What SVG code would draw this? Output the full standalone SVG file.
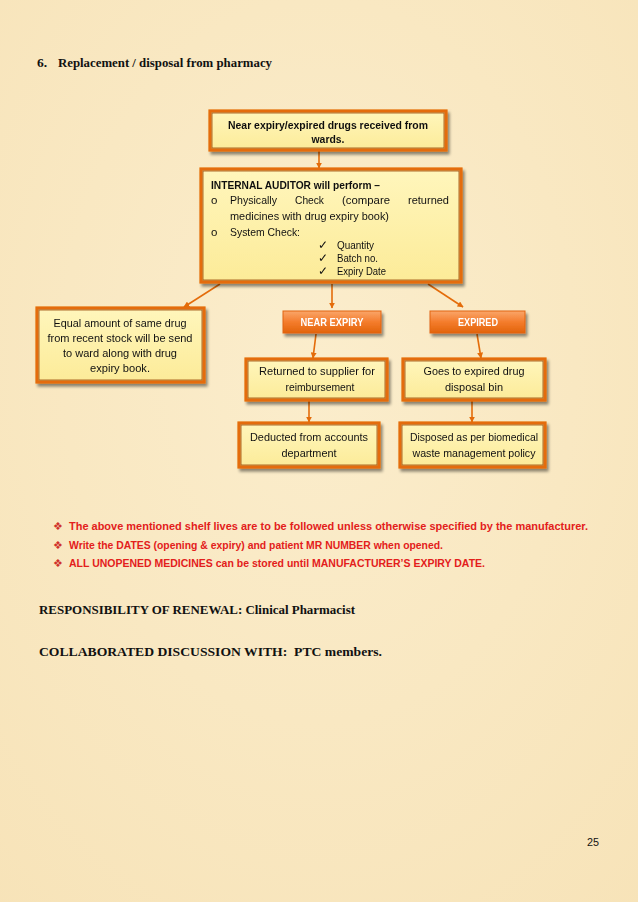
<svg xmlns="http://www.w3.org/2000/svg" width="638" height="902" viewBox="0 0 638 902">
<defs>
<linearGradient id="yel" x1="0" y1="0" x2="0" y2="1">
<stop offset="0" stop-color="#FFF6BC"/>
<stop offset="1" stop-color="#FCEB98"/>
</linearGradient>
<linearGradient id="org" x1="0" y1="0" x2="0" y2="1">
<stop offset="0" stop-color="#FAA66A"/>
<stop offset="0.5" stop-color="#F47C2C"/>
<stop offset="1" stop-color="#E2640C"/>
</linearGradient>
<radialGradient id="bg" cx="0.5" cy="0.4" r="0.8">
<stop offset="0" stop-color="#FBEDCC"/>
<stop offset="1" stop-color="#F7E3B8"/>
</radialGradient>
<filter id="sh" x="-10%" y="-10%" width="130%" height="140%">
<feGaussianBlur in="SourceAlpha" stdDeviation="1.5"/>
<feOffset dx="2" dy="2.5"/>
<feComponentTransfer><feFuncA type="linear" slope="0.45"/></feComponentTransfer>
<feMerge><feMergeNode/><feMergeNode in="SourceGraphic"/></feMerge>
</filter>
<marker id="ah" viewBox="0 0 10 10" refX="9" refY="5" markerWidth="6" markerHeight="6" orient="auto" markerUnits="userSpaceOnUse">
<path d="M0,0 L10,5 L0,10 z" fill="#E46C0A"/>
</marker>
</defs>
<style>
.box{fill:url(#yel);stroke:#E46C0A;stroke-width:3.2}
.inner{fill:none;stroke:#9A4A08;stroke-width:0.8}
.tag{fill:url(#org);stroke:#E2650E;stroke-width:1}
.t{font-family:"Liberation Sans",Arial,sans-serif;font-size:11.5px;fill:#111}
.b{font-weight:bold}
.c{text-anchor:middle}
.w{fill:#fff;font-weight:bold;font-size:11px}
.red{font-family:"Liberation Sans",Arial,sans-serif;font-size:11.5px;font-weight:bold;fill:#E3201B}
.bul{font-family:"DejaVu Sans",sans-serif;font-size:11px;fill:#D0302A}
.tm{font-family:"Liberation Serif","Times New Roman",serif;font-size:13.5px;font-weight:bold;fill:#111}
.cn{stroke:#E46C0A;stroke-width:1.6;fill:none;marker-end:url(#ah)}
</style>
<rect width="638" height="902" fill="url(#bg)"/>

<text class="tm" x="37" y="67">6.</text>
<text class="tm" x="58" y="67" textLength="214" lengthAdjust="spacingAndGlyphs">Replacement / disposal from pharmacy</text>

<g id="connectors">
<line class="cn" x1="319" y1="151" x2="319" y2="168"/>
<line class="cn" x1="220" y1="284" x2="184" y2="307"/>
<line class="cn" x1="332" y1="284" x2="332" y2="308"/>
<line class="cn" x1="428" y1="284" x2="463" y2="307"/>
<line class="cn" x1="316" y1="334" x2="313" y2="358"/>
<line class="cn" x1="477" y1="334" x2="481" y2="358"/>
<line class="cn" x1="309" y1="401" x2="309" y2="422"/>
<line class="cn" x1="472" y1="401" x2="472" y2="422"/>
</g>

<g id="n1" filter="url(#sh)">
<rect class="box" x="210" y="111" width="236" height="39"/>
<rect class="inner" x="212" y="113" width="232" height="35"/>
<text class="t b c" x="328" y="129" textLength="200" lengthAdjust="spacingAndGlyphs">Near expiry/expired drugs received from</text>
<text class="t b c" x="328" y="143" textLength="33" lengthAdjust="spacingAndGlyphs">wards.</text>
</g>

<g id="n2" filter="url(#sh)">
<rect class="box" x="201" y="169" width="260" height="113"/>
<rect class="inner" x="203" y="171" width="256" height="109"/>
<text class="t b" x="211" y="189" textLength="169" lengthAdjust="spacingAndGlyphs">INTERNAL AUDITOR will perform –</text>
<text class="t" x="211" y="204" font-size="9.5">o</text>
<text class="t" x="230" y="204" textLength="47" lengthAdjust="spacingAndGlyphs">Physically</text>
<text class="t" x="295" y="204" textLength="29" lengthAdjust="spacingAndGlyphs">Check</text>
<text class="t" x="342" y="204" textLength="48" lengthAdjust="spacingAndGlyphs">(compare</text>
<text class="t" x="408" y="204" textLength="41" lengthAdjust="spacingAndGlyphs">returned</text>
<text class="t" x="230" y="220" textLength="159" lengthAdjust="spacingAndGlyphs">medicines with drug expiry book)</text>
<text class="t" x="211" y="236" font-size="9.5">o</text>
<text class="t" x="230" y="236" textLength="70" lengthAdjust="spacingAndGlyphs">System Check:</text>
<text class="t" x="318" y="249" font-size="9.5">✓</text>
<text class="t" x="337" y="249" font-size="10" textLength="37" lengthAdjust="spacingAndGlyphs">Quantity</text>
<text class="t" x="318" y="262" font-size="9.5">✓</text>
<text class="t" x="337" y="262" font-size="10" textLength="41" lengthAdjust="spacingAndGlyphs">Batch no.</text>
<text class="t" x="318" y="275" font-size="9.5">✓</text>
<text class="t" x="337" y="275" font-size="10" textLength="49" lengthAdjust="spacingAndGlyphs">Expiry Date</text>
</g>

<g id="n3" filter="url(#sh)">
<rect class="box" x="37" y="308" width="167" height="74"/>
<rect class="inner" x="39" y="310" width="163" height="70"/>
<text class="t c" x="120" y="327" textLength="133" lengthAdjust="spacingAndGlyphs">Equal amount of same drug</text>
<text class="t c" x="120" y="342" textLength="145" lengthAdjust="spacingAndGlyphs">from recent stock will be send</text>
<text class="t c" x="120" y="357" textLength="114" lengthAdjust="spacingAndGlyphs">to ward along with drug</text>
<text class="t c" x="120" y="372" textLength="60" lengthAdjust="spacingAndGlyphs">expiry book.</text>
</g>

<g id="n4" filter="url(#sh)">
<rect class="tag" x="283" y="311" width="98" height="22"/>
<text class="t w c" x="332" y="326" textLength="63" lengthAdjust="spacingAndGlyphs">NEAR EXPIRY</text>
</g>

<g id="n5" filter="url(#sh)">
<rect class="tag" x="430" y="311" width="95" height="22"/>
<text class="t w c" x="478" y="326" textLength="40" lengthAdjust="spacingAndGlyphs">EXPIRED</text>
</g>

<g id="n6" filter="url(#sh)">
<rect class="box" x="246" y="359" width="141" height="41"/>
<rect class="inner" x="248" y="361" width="137" height="37"/>
<text class="t c" x="317" y="375" textLength="116" lengthAdjust="spacingAndGlyphs">Returned to supplier for</text>
<text class="t c" x="320" y="391" textLength="69" lengthAdjust="spacingAndGlyphs">reimbursement</text>
</g>

<g id="n7" filter="url(#sh)">
<rect class="box" x="403" y="359" width="142" height="41"/>
<rect class="inner" x="405" y="361" width="138" height="37"/>
<text class="t c" x="474" y="375" textLength="101" lengthAdjust="spacingAndGlyphs">Goes to expired drug</text>
<text class="t c" x="474" y="391" textLength="58" lengthAdjust="spacingAndGlyphs">disposal bin</text>
</g>

<g id="n8" filter="url(#sh)">
<rect class="box" x="239" y="423" width="140" height="44"/>
<rect class="inner" x="241" y="425" width="136" height="40"/>
<text class="t c" x="309" y="441" textLength="118" lengthAdjust="spacingAndGlyphs">Deducted from accounts</text>
<text class="t c" x="309" y="457" textLength="55" lengthAdjust="spacingAndGlyphs">department</text>
</g>

<g id="n9" filter="url(#sh)">
<rect class="box" x="400" y="423" width="145" height="44"/>
<rect class="inner" x="402" y="425" width="141" height="40"/>
<text class="t c" x="474" y="441" textLength="128" lengthAdjust="spacingAndGlyphs">Disposed as per biomedical</text>
<text class="t c" x="474" y="457" textLength="123" lengthAdjust="spacingAndGlyphs">waste management policy</text>
</g>

<text class="bul" x="53" y="530">❖</text>
<text class="red" x="69" y="530" textLength="519" lengthAdjust="spacingAndGlyphs">The above mentioned shelf lives are to be followed unless otherwise specified by the manufacturer.</text>
<text class="bul" x="53" y="549">❖</text>
<text class="red" x="69" y="549" textLength="374" lengthAdjust="spacingAndGlyphs">Write the DATES (opening &amp; expiry) and patient MR NUMBER when opened.</text>
<text class="bul" x="53" y="567">❖</text>
<text class="red" x="69" y="567" textLength="416" lengthAdjust="spacingAndGlyphs">ALL UNOPENED MEDICINES can be stored until MANUFACTURER’S EXPIRY DATE.</text>

<text class="tm" x="39" y="614" textLength="316" lengthAdjust="spacingAndGlyphs">RESPONSIBILITY OF RENEWAL: Clinical Pharmacist</text>
<text class="tm" x="39" y="656" textLength="343" lengthAdjust="spacingAndGlyphs" xml:space="preserve">COLLABORATED DISCUSSION WITH:  PTC members.</text>

<text class="t" x="587" y="846" font-size="11.5" textLength="12" lengthAdjust="spacingAndGlyphs">25</text>
</svg>
